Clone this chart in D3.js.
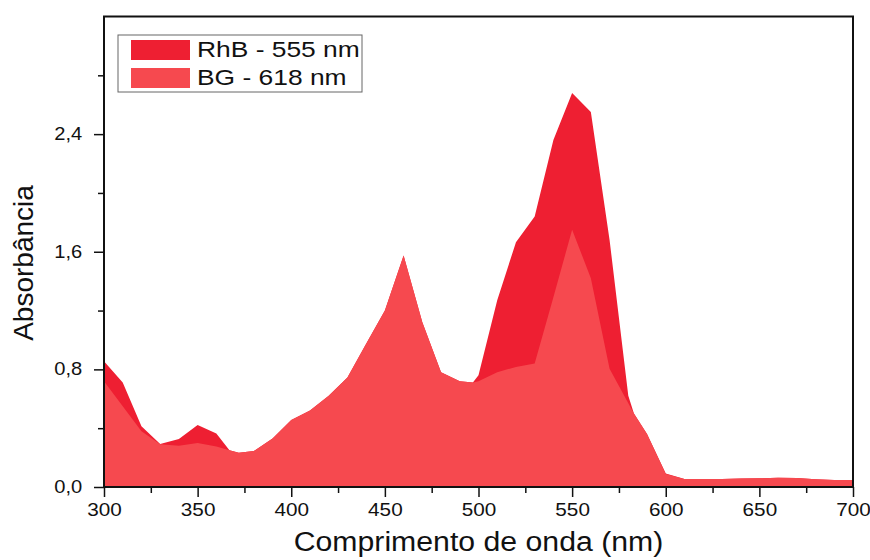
<!DOCTYPE html>
<html>
<head>
<meta charset="utf-8">
<script src="https://cdn.jsdelivr.net/npm/d3@7/dist/d3.min.js"></script>
<style>
  body { margin: 0; background: #fff; }
  svg { display: block; font-family: "Liberation Sans", Arial, sans-serif; }
</style>
</head>
<body>
<svg id="chart" width="870" height="560"></svg>
<script>
// ---- data ----
const wavelengths = [300,310,320,330,340,350,360,367,372,380,390,400,410,420,430,440,450,460,470,480,490,497,500,510,520,530,540,550,560,570,580,583,590,600,610,620,630,640,650,660,670,680,690,700];
const rhbValues   = [0.855,0.71,0.414,0.292,0.326,0.421,0.364,0.25,0.233,0.244,0.33,0.455,0.52,0.62,0.745,0.975,1.2,1.575,1.12,0.78,0.72,0.71,0.76,1.27,1.665,1.84,2.36,2.68,2.55,1.68,0.62,0.50,0.36,0.092,0.054,0.054,0.054,0.058,0.059,0.063,0.062,0.052,0.047,0.047];
const bgValues    = [0.72,0.55,0.38,0.29,0.28,0.30,0.275,0.25,0.233,0.244,0.33,0.455,0.52,0.62,0.745,0.975,1.2,1.575,1.12,0.78,0.72,0.71,0.72,0.78,0.817,0.84,1.29,1.75,1.42,0.805,0.57,0.50,0.36,0.088,0.054,0.054,0.054,0.058,0.059,0.063,0.062,0.052,0.047,0.047];
const seriesNames = ["RhB - 555 nm", "BG - 618 nm"];
const seriesColors = ["#EE1F32", "#F6494F"];
const xMajorTicks = [300,350,400,450,500,550,600,650,700];
const xMinorTicks = [325,375,425,475,525,575,625,675];
const yMajorTicks = [0, 0.8, 1.6, 2.4];
const yMinorTicks = [0.4, 1.2, 2.0, 2.8];
const xTitle = "Comprimento de onda (nm)";
const yTitle = "Absorbância";

// ---- layout ----
const svg = d3.select("#chart");
const L = 104, R = 853, T = 16.5, B = 487;
const x = d3.scaleLinear().domain([300, 700]).range([L, R]);
const y = d3.scaleLinear().domain([0, 3.2]).range([B, T]);

const fmt = v => d3.format(".1f")(v).replace(".", ",");

svg.append("defs").append("clipPath").attr("id", "clip")
  .append("rect").attr("x", L).attr("y", T).attr("width", R - L).attr("height", B - T);

const data = [rhbValues, bgValues].map(vals => wavelengths.map((w, i) => ({w, v: vals[i]})));
const area = d3.area().x(d => x(d.w)).y0(y(0)).y1(d => y(d.v)).curve(d3.curveLinear);

const plot = svg.append("g").attr("clip-path", "url(#clip)");
data.forEach((d, i) => {
  plot.append("path").datum(d).attr("d", area).attr("fill", seriesColors[i]);
});

// frame
svg.append("rect").attr("x", L).attr("y", T).attr("width", R - L).attr("height", B - T)
  .attr("fill", "none").attr("stroke", "#111").attr("stroke-width", 2);

// x axis
const xAxis = svg.append("g").attr("transform", `translate(0,${B})`)
  .call(d3.axisBottom(x).tickValues(xMajorTicks).tickSize(10).tickPadding(5).tickFormat(d3.format("d")));
xAxis.select(".domain").remove();
xAxis.selectAll(".tick line").attr("stroke", "#111").attr("stroke-width", 1.5);
xAxis.selectAll(".tick text").attr("font-size", 18.5).attr("fill", "#111")
  .attr("font-family", "'Liberation Sans', Arial, sans-serif")
  .attr("transform", "scale(1.12,1)").attr("dy", "0.78em");
svg.append("g").attr("transform", `translate(0,${B})`)
  .call(d3.axisBottom(x).tickValues(xMinorTicks).tickSize(6).tickFormat(""))
  .call(g => g.select(".domain").remove())
  .selectAll(".tick line").attr("stroke", "#111").attr("stroke-width", 1.5);

// y axis
const yAxis = svg.append("g").attr("transform", `translate(${L},0)`)
  .call(d3.axisLeft(y).tickValues(yMajorTicks).tickSize(10).tickPadding(9).tickFormat(fmt));
yAxis.select(".domain").remove();
yAxis.selectAll(".tick line").attr("stroke", "#111").attr("stroke-width", 1.5);
yAxis.selectAll(".tick text").attr("font-size", 17.5).attr("fill", "#111")
  .attr("font-family", "'Liberation Sans', Arial, sans-serif")
  .attr("transform", "scale(1.15,1)");
svg.append("g").attr("transform", `translate(${L},0)`)
  .call(d3.axisLeft(y).tickValues(yMinorTicks).tickSize(6).tickFormat(""))
  .call(g => g.select(".domain").remove())
  .selectAll(".tick line").attr("stroke", "#111").attr("stroke-width", 1.5);

// titles
svg.append("text").attr("transform", `translate(${(L + R) / 2},551) scale(1.12,1)`)
  .attr("text-anchor", "middle").attr("font-size", 27).attr("fill", "#111").text(xTitle);
svg.append("text").attr("transform", `translate(33,263) rotate(-90)`)
  .attr("text-anchor", "middle").attr("font-size", 28).attr("fill", "#111").text(yTitle);

// legend
const lg = svg.append("g");
lg.append("rect").attr("x", 118).attr("y", 35).attr("width", 244).attr("height", 57)
  .attr("fill", "#fff").attr("stroke", "#666").attr("stroke-width", 1);
seriesNames.forEach((name, i) => {
  lg.append("rect").attr("x", 131).attr("y", 40 + i * 28).attr("width", 59).attr("height", 20)
    .attr("fill", seriesColors[i]);
  lg.append("text").attr("transform", `translate(197,${57 + i * 28}) scale(1.2,1)`)
    .attr("font-size", 22).attr("fill", "#111").text(name);
});
</script>
</body>
</html>
